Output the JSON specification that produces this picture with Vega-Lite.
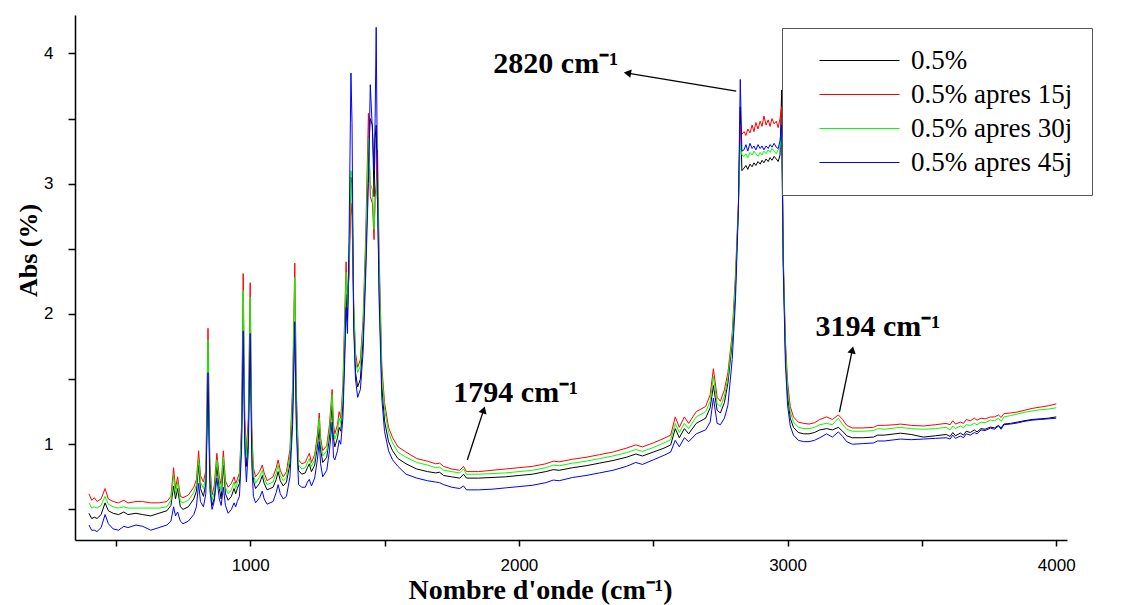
{
 "$schema": "https://vega.github.io/schema/vega-lite/v6.json",
 "width": 992,
 "height": 525,
 "autosize": {"type": "none"},
 "padding": {"left": 75, "top": 15, "right": 69, "bottom": 65},
 "background": "white",
 "config": {"view": {"stroke": null}},
 "layer": [
  {
   "data": {"values": [
    {"w":400,"s1":0.47,"s2":0.62,"s3":0.55,"s4":0.38},
    {"w":410,"s1":0.43,"s2":0.57,"s3":0.51,"s4":0.34},
    {"w":420,"s1":0.44,"s2":0.59,"s3":0.52,"s4":0.34},
    {"w":430,"s1":0.43,"s2":0.56,"s3":0.51,"s4":0.33},
    {"w":445,"s1":0.46,"s2":0.58,"s3":0.53,"s4":0.36},
    {"w":460,"s1":0.55,"s2":0.66,"s3":0.60,"s4":0.46},
    {"w":472,"s1":0.49,"s2":0.58,"s3":0.54,"s4":0.39},
    {"w":490,"s1":0.47,"s2":0.56,"s3":0.52,"s4":0.35},
    {"w":510,"s1":0.46,"s2":0.55,"s3":0.51,"s4":0.34},
    {"w":530,"s1":0.48,"s2":0.57,"s3":0.52,"s4":0.37},
    {"w":545,"s1":0.46,"s2":0.55,"s3":0.51,"s4":0.36},
    {"w":575,"s1":0.47,"s2":0.56,"s3":0.51,"s4":0.38},
    {"w":600,"s1":0.46,"s2":0.56,"s3":0.51,"s4":0.37},
    {"w":630,"s1":0.45,"s2":0.55,"s3":0.51,"s4":0.34},
    {"w":660,"s1":0.47,"s2":0.55,"s3":0.51,"s4":0.36},
    {"w":690,"s1":0.49,"s2":0.56,"s3":0.52,"s4":0.38},
    {"w":705,"s1":0.53,"s2":0.60,"s3":0.57,"s4":0.41},
    {"w":715,"s1":0.68,"s2":0.82,"s3":0.76,"s4":0.52},
    {"w":722,"s1":0.58,"s2":0.66,"s3":0.62,"s4":0.45},
    {"w":730,"s1":0.66,"s2":0.75,"s3":0.71,"s4":0.48},
    {"w":740,"s1":0.52,"s2":0.60,"s3":0.56,"s4":0.41},
    {"w":750,"s1":0.50,"s2":0.59,"s3":0.55,"s4":0.39},
    {"w":770,"s1":0.52,"s2":0.61,"s3":0.57,"s4":0.41},
    {"w":790,"s1":0.58,"s2":0.67,"s3":0.63,"s4":0.46},
    {"w":800,"s1":0.64,"s2":0.73,"s3":0.69,"s4":0.52},
    {"w":808,"s1":0.84,"s2":0.95,"s3":0.89,"s4":0.70},
    {"w":815,"s1":0.66,"s2":0.76,"s3":0.71,"s4":0.56},
    {"w":826,"s1":0.60,"s2":0.71,"s3":0.66,"s4":0.52},
    {"w":835,"s1":0.70,"s2":0.80,"s3":0.75,"s4":0.62},
    {"w":843,"s1":1.52,"s2":1.89,"s3":1.80,"s4":1.55},
    {"w":850,"s1":0.75,"s2":0.85,"s3":0.80,"s4":0.65},
    {"w":858,"s1":0.53,"s2":0.61,"s3":0.57,"s4":0.50},
    {"w":866,"s1":0.58,"s2":0.68,"s3":0.63,"s4":0.56},
    {"w":876,"s1":0.83,"s2":0.93,"s3":0.88,"s4":0.74},
    {"w":885,"s1":0.66,"s2":0.75,"s3":0.71,"s4":0.58},
    {"w":892,"s1":0.58,"s2":0.69,"s3":0.64,"s4":0.53},
    {"w":900,"s1":0.84,"s2":0.95,"s3":0.90,"s4":0.67},
    {"w":908,"s1":0.62,"s2":0.72,"s3":0.67,"s4":0.53},
    {"w":918,"s1":0.57,"s2":0.67,"s3":0.62,"s4":0.47},
    {"w":930,"s1":0.60,"s2":0.70,"s3":0.65,"s4":0.50},
    {"w":940,"s1":0.66,"s2":0.75,"s3":0.71,"s4":0.55},
    {"w":946,"s1":0.62,"s2":0.70,"s3":0.66,"s4":0.52},
    {"w":952,"s1":0.66,"s2":0.73,"s3":0.70,"s4":0.56},
    {"w":960,"s1":0.70,"s2":0.78,"s3":0.74,"s4":0.60},
    {"w":968,"s1":1.05,"s2":1.15,"s3":1.10,"s4":0.95},
    {"w":974,"s1":1.87,"s2":2.31,"s3":2.18,"s4":1.87},
    {"w":980,"s1":1.05,"s2":1.20,"s3":1.12,"s4":0.95},
    {"w":986,"s1":0.83,"s2":0.95,"s3":0.90,"s4":0.71},
    {"w":993,"s1":1.05,"s2":1.20,"s3":1.12,"s4":0.95},
    {"w":1000,"s1":1.85,"s2":2.24,"s3":2.13,"s4":1.85},
    {"w":1006,"s1":1.00,"s2":1.12,"s3":1.06,"s4":0.85},
    {"w":1012,"s1":0.72,"s2":0.82,"s3":0.77,"s4":0.60},
    {"w":1020,"s1":0.66,"s2":0.75,"s3":0.70,"s4":0.55},
    {"w":1035,"s1":0.70,"s2":0.79,"s3":0.75,"s4":0.59},
    {"w":1045,"s1":0.76,"s2":0.84,"s3":0.80,"s4":0.64},
    {"w":1052,"s1":0.70,"s2":0.78,"s3":0.74,"s4":0.58},
    {"w":1063,"s1":0.65,"s2":0.72,"s3":0.69,"s4":0.54},
    {"w":1085,"s1":0.67,"s2":0.75,"s3":0.71,"s4":0.56},
    {"w":1097,"s1":0.73,"s2":0.82,"s3":0.78,"s4":0.63},
    {"w":1104,"s1":0.79,"s2":0.88,"s3":0.84,"s4":0.69},
    {"w":1112,"s1":0.72,"s2":0.80,"s3":0.76,"s4":0.62},
    {"w":1123,"s1":0.68,"s2":0.75,"s3":0.72,"s4":0.58},
    {"w":1135,"s1":0.71,"s2":0.79,"s3":0.75,"s4":0.60},
    {"w":1148,"s1":0.85,"s2":0.96,"s3":0.91,"s4":0.75},
    {"w":1158,"s1":1.25,"s2":1.45,"s3":1.38,"s4":1.15},
    {"w":1166,"s1":1.94,"s2":2.39,"s3":2.28,"s4":1.94},
    {"w":1172,"s1":1.20,"s2":1.40,"s3":1.32,"s4":1.10},
    {"w":1180,"s1":0.80,"s2":0.88,"s3":0.84,"s4":0.69},
    {"w":1192,"s1":0.77,"s2":0.85,"s3":0.81,"s4":0.67},
    {"w":1205,"s1":0.78,"s2":0.86,"s3":0.82,"s4":0.67},
    {"w":1213,"s1":0.82,"s2":0.90,"s3":0.86,"s4":0.71},
    {"w":1220,"s1":0.85,"s2":0.93,"s3":0.89,"s4":0.73},
    {"w":1228,"s1":0.79,"s2":0.86,"s3":0.83,"s4":0.68},
    {"w":1240,"s1":0.84,"s2":0.92,"s3":0.88,"s4":0.74},
    {"w":1250,"s1":0.98,"s2":1.07,"s3":1.03,"s4":0.88},
    {"w":1257,"s1":1.12,"s2":1.24,"s3":1.20,"s4":1.02},
    {"w":1262,"s1":0.96,"s2":1.05,"s3":1.01,"s4":0.85},
    {"w":1270,"s1":0.86,"s2":0.95,"s3":0.91,"s4":0.75},
    {"w":1285,"s1":0.90,"s2":0.99,"s3":0.95,"s4":0.80},
    {"w":1295,"s1":1.05,"s2":1.15,"s3":1.11,"s4":0.95},
    {"w":1305,"s1":1.30,"s2":1.42,"s3":1.38,"s4":1.17},
    {"w":1310,"s1":1.05,"s2":1.15,"s3":1.11,"s4":0.90},
    {"w":1315,"s1":0.98,"s2":1.08,"s3":1.04,"s4":0.88},
    {"w":1325,"s1":1.05,"s2":1.15,"s3":1.10,"s4":0.95},
    {"w":1331,"s1":1.13,"s2":1.25,"s3":1.20,"s4":1.03},
    {"w":1337,"s1":1.10,"s2":1.20,"s3":1.16,"s4":1.00},
    {"w":1345,"s1":1.30,"s2":1.45,"s3":1.40,"s4":1.20},
    {"w":1352,"s1":1.75,"s2":2.00,"s3":1.90,"s4":1.65},
    {"w":1357,"s1":2.15,"s2":2.40,"s3":2.32,"s4":2.05},
    {"w":1362,"s1":1.95,"s2":2.10,"s3":2.05,"s4":1.85},
    {"w":1368,"s1":2.40,"s2":2.30,"s3":2.40,"s4":2.60},
    {"w":1375,"s1":3.05,"s2":2.85,"s3":3.10,"s4":3.85},
    {"w":1379,"s1":3.00,"s2":2.75,"s3":3.05,"s4":3.47},
    {"w":1385,"s1":2.00,"s2":2.10,"s3":2.10,"s4":1.90},
    {"w":1392,"s1":1.55,"s2":1.70,"s3":1.65,"s4":1.50},
    {"w":1400,"s1":1.44,"s2":1.59,"s3":1.55,"s4":1.36},
    {"w":1410,"s1":1.50,"s2":1.65,"s3":1.60,"s4":1.42},
    {"w":1420,"s1":1.80,"s2":1.95,"s3":1.90,"s4":1.70},
    {"w":1430,"s1":2.40,"s2":2.60,"s3":2.50,"s4":2.30},
    {"w":1440,"s1":3.20,"s2":3.54,"s3":3.35,"s4":3.00},
    {"w":1447,"s1":3.50,"s2":2.90,"s3":3.00,"s4":3.76},
    {"w":1455,"s1":3.45,"s2":2.85,"s3":2.95,"s4":3.40},
    {"w":1461,"s1":2.90,"s2":2.57,"s3":2.65,"s4":3.10},
    {"w":1465,"s1":3.35,"s2":2.90,"s3":2.85,"s4":3.50},
    {"w":1469,"s1":3.45,"s2":3.00,"s3":2.90,"s4":4.20},
    {"w":1474,"s1":2.90,"s2":3.26,"s3":3.10,"s4":2.90},
    {"w":1480,"s1":2.20,"s2":2.45,"s3":2.35,"s4":2.10},
    {"w":1490,"s1":1.45,"s2":1.60,"s3":1.55,"s4":1.35},
    {"w":1500,"s1":1.18,"s2":1.32,"s3":1.27,"s4":1.10},
    {"w":1515,"s1":1.02,"s2":1.13,"s3":1.09,"s4":0.95},
    {"w":1530,"s1":0.95,"s2":1.05,"s3":1.01,"s4":0.88},
    {"w":1550,"s1":0.89,"s2":0.98,"s3":0.94,"s4":0.83},
    {"w":1580,"s1":0.85,"s2":0.94,"s3":0.90,"s4":0.77},
    {"w":1620,"s1":0.81,"s2":0.89,"s3":0.86,"s4":0.74},
    {"w":1660,"s1":0.79,"s2":0.87,"s3":0.84,"s4":0.72},
    {"w":1690,"s1":0.78,"s2":0.85,"s3":0.82,"s4":0.71},
    {"w":1705,"s1":0.785,"s2":0.855,"s3":0.825,"s4":0.705},
    {"w":1720,"s1":0.76,"s2":0.83,"s3":0.80,"s4":0.69},
    {"w":1750,"s1":0.75,"s2":0.81,"s3":0.79,"s4":0.67},
    {"w":1780,"s1":0.74,"s2":0.80,"s3":0.78,"s4":0.66},
    {"w":1794,"s1":0.77,"s2":0.83,"s3":0.81,"s4":0.68},
    {"w":1805,"s1":0.74,"s2":0.79,"s3":0.77,"s4":0.65},
    {"w":1850,"s1":0.74,"s2":0.79,"s3":0.77,"s4":0.65},
    {"w":1900,"s1":0.745,"s2":0.80,"s3":0.775,"s4":0.655},
    {"w":1950,"s1":0.75,"s2":0.81,"s3":0.78,"s4":0.665},
    {"w":2000,"s1":0.76,"s2":0.82,"s3":0.79,"s4":0.675},
    {"w":2050,"s1":0.77,"s2":0.83,"s3":0.80,"s4":0.685},
    {"w":2100,"s1":0.79,"s2":0.85,"s3":0.82,"s4":0.705},
    {"w":2128,"s1":0.805,"s2":0.87,"s3":0.84,"s4":0.725},
    {"w":2150,"s1":0.80,"s2":0.865,"s3":0.835,"s4":0.72},
    {"w":2200,"s1":0.82,"s2":0.885,"s3":0.855,"s4":0.745},
    {"w":2250,"s1":0.835,"s2":0.90,"s3":0.87,"s4":0.76},
    {"w":2300,"s1":0.855,"s2":0.92,"s3":0.89,"s4":0.78},
    {"w":2350,"s1":0.875,"s2":0.94,"s3":0.91,"s4":0.80},
    {"w":2400,"s1":0.90,"s2":0.97,"s3":0.935,"s4":0.83},
    {"w":2435,"s1":0.925,"s2":0.995,"s3":0.96,"s4":0.86},
    {"w":2460,"s1":0.91,"s2":0.98,"s3":0.945,"s4":0.845},
    {"w":2500,"s1":0.94,"s2":1.01,"s3":0.975,"s4":0.88},
    {"w":2540,"s1":0.97,"s2":1.045,"s3":1.01,"s4":0.915},
    {"w":2565,"s1":0.995,"s2":1.07,"s3":1.035,"s4":0.94},
    {"w":2582,"s1":1.12,"s2":1.21,"s3":1.16,"s4":1.03},
    {"w":2597,"s1":1.05,"s2":1.13,"s3":1.09,"s4":0.98},
    {"w":2616,"s1":1.12,"s2":1.21,"s3":1.16,"s4":1.05},
    {"w":2632,"s1":1.08,"s2":1.16,"s3":1.12,"s4":1.02},
    {"w":2660,"s1":1.16,"s2":1.25,"s3":1.21,"s4":1.08},
    {"w":2695,"s1":1.20,"s2":1.29,"s3":1.25,"s4":1.11},
    {"w":2712,"s1":1.28,"s2":1.38,"s3":1.33,"s4":1.17},
    {"w":2724,"s1":1.45,"s2":1.58,"s3":1.52,"s4":1.355},
    {"w":2738,"s1":1.26,"s2":1.36,"s3":1.31,"s4":1.16},
    {"w":2750,"s1":1.24,"s2":1.33,"s3":1.29,"s4":1.15},
    {"w":2765,"s1":1.32,"s2":1.42,"s3":1.37,"s4":1.20},
    {"w":2778,"s1":1.47,"s2":1.55,"s3":1.51,"s4":1.30},
    {"w":2794,"s1":1.78,"s2":1.85,"s3":1.82,"s4":1.65},
    {"w":2806,"s1":2.20,"s2":2.30,"s3":2.25,"s4":2.10},
    {"w":2817,"s1":2.82,"s2":2.85,"s3":2.83,"s4":2.80},
    {"w":2824,"s1":3.59,"s2":3.45,"s3":3.30,"s4":3.80},
    {"w":2830,"s1":3.10,"s2":3.38,"s3":3.22,"s4":3.25},
    {"w":2838,"s1":3.12,"s2":3.40,"s3":3.21,"s4":3.26},
    {"w":2845,"s1":3.14,"s2":3.37,"s3":3.23,"s4":3.30},
    {"w":2852,"s1":3.11,"s2":3.42,"s3":3.20,"s4":3.25},
    {"w":2860,"s1":3.15,"s2":3.39,"s3":3.24,"s4":3.31},
    {"w":2868,"s1":3.13,"s2":3.45,"s3":3.22,"s4":3.27},
    {"w":2875,"s1":3.16,"s2":3.40,"s3":3.25,"s4":3.29},
    {"w":2882,"s1":3.14,"s2":3.47,"s3":3.23,"s4":3.26},
    {"w":2890,"s1":3.17,"s2":3.42,"s3":3.21,"s4":3.30},
    {"w":2898,"s1":3.15,"s2":3.48,"s3":3.24,"s4":3.27},
    {"w":2905,"s1":3.18,"s2":3.44,"s3":3.22,"s4":3.29},
    {"w":2912,"s1":3.16,"s2":3.52,"s3":3.25,"s4":3.26},
    {"w":2920,"s1":3.19,"s2":3.45,"s3":3.23,"s4":3.29},
    {"w":2928,"s1":3.17,"s2":3.49,"s3":3.26,"s4":3.27},
    {"w":2935,"s1":3.20,"s2":3.44,"s3":3.24,"s4":3.30},
    {"w":2942,"s1":3.18,"s2":3.50,"s3":3.27,"s4":3.28},
    {"w":2950,"s1":3.21,"s2":3.46,"s3":3.25,"s4":3.31},
    {"w":2958,"s1":3.19,"s2":3.48,"s3":3.23,"s4":3.28},
    {"w":2965,"s1":3.17,"s2":3.43,"s3":3.26,"s4":3.27},
    {"w":2972,"s1":3.22,"s2":3.50,"s3":3.28,"s4":3.33},
    {"w":2978,"s1":3.72,"s2":3.59,"s3":3.40,"s4":3.45},
    {"w":2984,"s1":2.40,"s2":2.45,"s3":2.42,"s4":2.35},
    {"w":2992,"s1":1.70,"s2":1.80,"s3":1.75,"s4":1.62},
    {"w":3000,"s1":1.38,"s2":1.48,"s3":1.43,"s4":1.30},
    {"w":3010,"s1":1.20,"s2":1.29,"s3":1.25,"s4":1.14},
    {"w":3022,"s1":1.13,"s2":1.21,"s3":1.17,"s4":1.07},
    {"w":3040,"s1":1.09,"s2":1.17,"s3":1.13,"s4":1.03},
    {"w":3060,"s1":1.08,"s2":1.16,"s3":1.12,"s4":1.02},
    {"w":3080,"s1":1.08,"s2":1.155,"s3":1.12,"s4":1.02},
    {"w":3100,"s1":1.09,"s2":1.165,"s3":1.13,"s4":1.03},
    {"w":3120,"s1":1.11,"s2":1.19,"s3":1.15,"s4":1.05},
    {"w":3145,"s1":1.12,"s2":1.21,"s3":1.16,"s4":1.08},
    {"w":3167,"s1":1.11,"s2":1.19,"s3":1.15,"s4":1.055},
    {"w":3189,"s1":1.13,"s2":1.225,"s3":1.20,"s4":1.095},
    {"w":3205,"s1":1.10,"s2":1.19,"s3":1.15,"s4":1.06},
    {"w":3220,"s1":1.065,"s2":1.145,"s3":1.115,"s4":1.02},
    {"w":3241,"s1":1.05,"s2":1.125,"s3":1.10,"s4":1.00},
    {"w":3280,"s1":1.05,"s2":1.125,"s3":1.10,"s4":1.005},
    {"w":3320,"s1":1.055,"s2":1.13,"s3":1.105,"s4":1.01},
    {"w":3335,"s1":1.07,"s2":1.145,"s3":1.12,"s4":1.025},
    {"w":3360,"s1":1.07,"s2":1.145,"s3":1.115,"s4":1.025},
    {"w":3400,"s1":1.08,"s2":1.15,"s3":1.125,"s4":1.035},
    {"w":3420,"s1":1.085,"s2":1.155,"s3":1.13,"s4":1.04},
    {"w":3460,"s1":1.075,"s2":1.145,"s3":1.12,"s4":1.035},
    {"w":3506,"s1":1.055,"s2":1.14,"s3":1.115,"s4":1.04},
    {"w":3550,"s1":1.065,"s2":1.15,"s3":1.12,"s4":1.045},
    {"w":3590,"s1":1.075,"s2":1.16,"s3":1.13,"s4":1.05},
    {"w":3605,"s1":1.06,"s2":1.15,"s3":1.11,"s4":1.04},
    {"w":3615,"s1":1.09,"s2":1.18,"s3":1.14,"s4":1.07},
    {"w":3625,"s1":1.065,"s2":1.155,"s3":1.12,"s4":1.045},
    {"w":3643,"s1":1.086,"s2":1.17,"s3":1.14,"s4":1.063},
    {"w":3655,"s1":1.07,"s2":1.16,"s3":1.125,"s4":1.05},
    {"w":3665,"s1":1.10,"s2":1.19,"s3":1.15,"s4":1.08},
    {"w":3680,"s1":1.09,"s2":1.18,"s3":1.145,"s4":1.07},
    {"w":3695,"s1":1.11,"s2":1.20,"s3":1.16,"s4":1.09},
    {"w":3705,"s1":1.095,"s2":1.185,"s3":1.15,"s4":1.08},
    {"w":3720,"s1":1.12,"s2":1.20,"s3":1.17,"s4":1.11},
    {"w":3735,"s1":1.115,"s2":1.195,"s3":1.165,"s4":1.105},
    {"w":3755,"s1":1.132,"s2":1.209,"s3":1.186,"s4":1.124},
    {"w":3770,"s1":1.125,"s2":1.21,"s3":1.18,"s4":1.115},
    {"w":3785,"s1":1.145,"s2":1.225,"s3":1.20,"s4":1.14},
    {"w":3795,"s1":1.125,"s2":1.205,"s3":1.175,"s4":1.115},
    {"w":3805,"s1":1.155,"s2":1.235,"s3":1.21,"s4":1.15},
    {"w":3830,"s1":1.16,"s2":1.24,"s3":1.22,"s4":1.155},
    {"w":3855,"s1":1.17,"s2":1.247,"s3":1.232,"s4":1.163},
    {"w":3880,"s1":1.18,"s2":1.26,"s3":1.245,"s4":1.175},
    {"w":3910,"s1":1.19,"s2":1.275,"s3":1.255,"s4":1.185},
    {"w":3940,"s1":1.195,"s2":1.285,"s3":1.265,"s4":1.19},
    {"w":3970,"s1":1.20,"s2":1.295,"s3":1.27,"s4":1.195},
    {"w":4000,"s1":1.21,"s2":1.31,"s3":1.28,"s4":1.20}
   ]},
   "transform": [{"fold": ["s1", "s2", "s3", "s4"], "as": ["serie", "abs"]}],
   "mark": {"type": "line", "strokeWidth": 1, "clip": true},
   "encoding": {
    "x": {"field": "w", "type": "quantitative",
     "scale": {"domain": [348, 4040], "nice": false, "zero": false},
     "axis": {"title": "Nombre d'onde (cm⁻¹)", "values": [500,1000,1500,2000,2500,3000,3500,4000],
      "labelExpr": "datum.value % 1000 === 0 ? format(datum.value, 'd') : ''",
      "grid": false, "domainColor": "black", "domainWidth": 1.5, "tickColor": "black", "tickWidth": 1.5, "tickSize": 6,
      "labelFont": "Liberation Sans", "labelFontSize": 17, "labelColor": "black", "labelPadding": 11, "labelFlush": false, "labelOverlap": false,
      "titleFont": "Liberation Serif", "titleFontSize": 28, "titleFontWeight": "bold", "titleColor": "black",
      "titleX": 465, "titleY": 58, "titleBaseline": "alphabetic", "titleAlign": "center"}},
    "y": {"field": "abs", "type": "quantitative",
     "scale": {"domain": [0.265, 4.295], "nice": false, "zero": false},
     "axis": {"title": "Abs (%)", "values": [0.5,1,1.5,2,2.5,3,3.5,4],
      "labelExpr": "datum.value % 1 === 0 ? format(datum.value, 'd') : ''",
      "grid": false, "domainColor": "black", "domainWidth": 1.5, "tickColor": "black", "tickWidth": 1.5, "tickSize": 7,
      "labelFont": "Liberation Sans", "labelFontSize": 17, "labelColor": "black", "labelPadding": 15, "labelOverlap": false,
      "titleFont": "Liberation Serif", "titleFontSize": 26, "titleFontWeight": "bold", "titleColor": "black",
      "titleX": -34, "titleY": 235, "titleAngle": -90, "titleAlign": "center", "titleBaseline": "bottom"}},
    "color": {"field": "serie", "type": "nominal",
     "scale": {"domain": ["s1", "s2", "s3", "s4"], "range": ["#000000", "#ff0000", "#00ff00", "#0000ff"]},
     "legend": {"orient": "none", "legendX": 707, "legendY": 13, "title": null,
      "labelExpr": "datum.label == 's1' ? '0.5%' : datum.label == 's2' ? '0.5% apres 15j' : datum.label == 's3' ? '0.5% apres 30j' : '0.5% apres 45j'",
      "labelFont": "Liberation Serif", "labelFontSize": 27, "labelColor": "black", "labelLimit": 400,
      "symbolType": "M0.5,0H8.5", "symbolSize": 400, "symbolStrokeWidth": 1.2,
      "labelOffset": 83, "rowPadding": 6, "padding": 19, "strokeColor": "#555555", "fillColor": "white"}}
   }
  },
  {
   "data": {"values": [
    {"x1": 2809, "y1": 3.711, "x2": 2404, "y2": 3.849, "ang": 279.5},
    {"x1": 1808, "y1": 0.879, "x2": 1869, "y2": 1.264, "ang": 18.1},
    {"x1": 3193, "y1": 1.247, "x2": 3241, "y2": 1.724, "ang": 11.8}
   ]},
   "layer": [
    {"mark": {"type": "rule", "color": "black", "strokeWidth": 1.3},
     "encoding": {"x": {"field": "x1", "type": "quantitative"}, "y": {"field": "y1", "type": "quantitative"},
      "x2": {"field": "x2"}, "y2": {"field": "y2"}}},
    {"mark": {"type": "point", "shape": "triangle-up", "filled": true, "color": "black", "size": 70, "opacity": 1},
     "encoding": {"x": {"field": "x2", "type": "quantitative"}, "y": {"field": "y2", "type": "quantitative"},
      "angle": {"field": "ang", "type": "quantitative", "scale": null}}}
   ]
  },
  {
   "data": {"values": [
    {"w": 1905, "a": 3.849, "t": "2820 cm⁻¹"},
    {"w": 1756, "a": 1.324, "t": "1794 cm⁻¹"},
    {"w": 3104, "a": 1.830, "t": "3194 cm⁻¹"}
   ]},
   "mark": {"type": "text", "align": "left", "baseline": "alphabetic", "font": "Liberation Serif", "fontSize": 30, "fontWeight": "bold", "color": "black"},
   "encoding": {"x": {"field": "w", "type": "quantitative"}, "y": {"field": "a", "type": "quantitative"}, "text": {"field": "t"}}
  }
 ]
}
